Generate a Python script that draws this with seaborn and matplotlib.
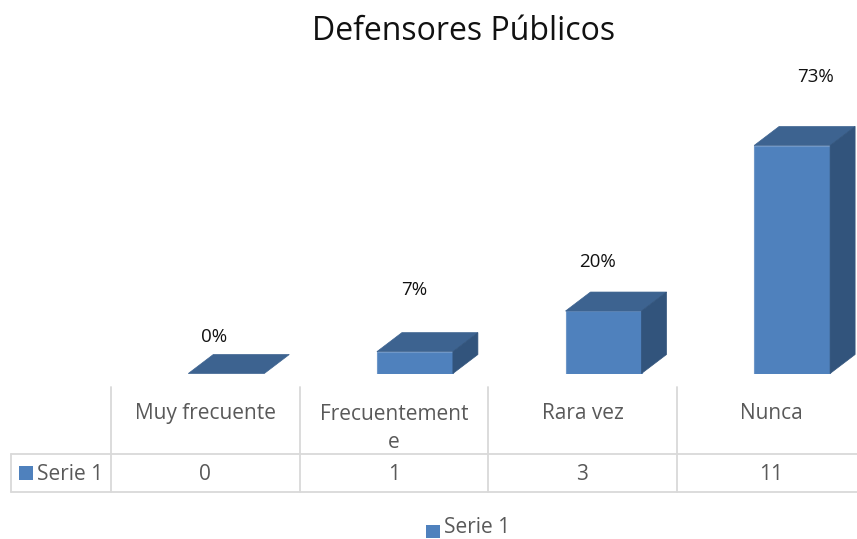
import matplotlib
matplotlib.use("Agg")
import matplotlib.pyplot as plt
import pandas as pd
import seaborn as sns
from matplotlib.patches import Polygon, Rectangle

# Values
categories = ["Muy frecuente", "Frecuentemente", "Rara vez", "Nunca"]
table_labels = ["Muy frecuente", "Frecuentement\ne", "Rara vez", "Nunca"]
percentages = [0, 7, 20, 73]
counts = [0, 1, 3, 11]
percent_labels = ["0%", "7%", "20%", "73%"]
series_name = "Serie 1"
title = "Defensores Públicos"

FRONT = "#4f81bd"
EDGE = "#6f97c8"
TOP = "#3d6390"
SIDE = "#32547c"
GRID = "#d9d9d9"
TEXT = "#595959"

W, H = 857, 539
COL_W = 188.6
COL_X0 = 111
BASE_Y = 373.5
PX_PER_PCT = 228 / 73
DEPTH_X, DEPTH_Y = 25, 19
# label offsets from the bar top centre, pixels (labels were moved by hand)
LABEL_OFFSETS = [(-12, 36), (-1, 62), (-6, 49), (23, 69)]

sns.set_theme(style="white")
plt.rcParams["font.family"] = ["Open Sans", "DejaVu Sans"]

fig = plt.figure(figsize=(W / 100, H / 100), dpi=100)
ax_left = COL_X0 + 21
ax_top = 40
ax = fig.add_axes([ax_left / W, 1 - BASE_Y / H, (W - ax_left) / W, (BASE_Y - ax_top) / H])

df = pd.DataFrame({"categoria": categories, "porcentaje": percentages})
sns.barplot(data=df, x="categoria", y="porcentaje", color=FRONT, saturation=1,
            width=76 / COL_W, edgecolor=EDGE, linewidth=0.8, ax=ax)
ax.set_xlim(-0.5, -0.5 + (W - ax_left) / COL_W)
ax.set_ylim(0, (BASE_Y - ax_top) / PX_PER_PCT)
ax.axis("off")

# fake 3D faces on every bar
dx = DEPTH_X / COL_W
dy = DEPTH_Y / PX_PER_PCT
for bar in list(ax.patches):
    x0, x1 = bar.get_x(), bar.get_x() + bar.get_width()
    h = bar.get_height()
    ax.add_patch(Polygon([(x0, h), (x1, h), (x1 + dx, h + dy), (x0 + dx, h + dy)],
                         facecolor=TOP, edgecolor=TOP, linewidth=0.5, clip_on=False))
    if h > 0:
        ax.add_patch(Polygon([(x1, 0), (x1 + dx, dy), (x1 + dx, h + dy), (x1, h)],
                             facecolor=SIDE, edgecolor=SIDE, linewidth=0.5, clip_on=False))

# overlay in pixel coordinates for the title, data table and legend
over = fig.add_axes([0, 0, 1, 1])
over.set_xlim(0, W)
over.set_ylim(H, 0)
over.axis("off")

over.text(464, 32, title, ha="center", va="center", fontsize=23, color="#111111")

for i, lab in enumerate(percent_labels):
    cx = ax_left + (i + 0.5) * COL_W
    top = BASE_Y - percentages[i] * PX_PER_PCT
    ox, oy = LABEL_OFFSETS[i]
    over.text(cx + ox, top - oy, lab, ha="center", va="center", fontsize=13.5, color="#111111")

# data table
row1, row2, row3 = 387, 454, 492
over.plot([11, W], [row2, row2], color=GRID, lw=1.3)
over.plot([11, W], [row3, row3], color=GRID, lw=1.3)
over.plot([11, 11], [row2, row3], color=GRID, lw=1.3)
for i in range(4):
    x = COL_X0 + i * COL_W
    over.plot([x, x], [row1, row3], color=GRID, lw=1.3)
    cx = x + COL_W / 2
    # va="baseline" sits on the last line, so wrapped labels go one line lower
    extra_lines = table_labels[i].count("\n")
    over.text(cx, 419 + 29 * extra_lines, table_labels[i], ha="center", va="baseline",
              fontsize=15, color=TEXT, linespacing=1.45)
    over.text(cx, 480, str(counts[i]), ha="center", va="baseline", fontsize=15, color=TEXT)

over.add_patch(Rectangle((19, 466), 14, 14, facecolor=FRONT, edgecolor="none"))
over.text(37, 480, series_name, ha="left", va="baseline", fontsize=15, color=TEXT)

# legend
over.add_patch(Rectangle((426, 525), 14, 13, facecolor=FRONT, edgecolor="none"))
over.text(444, 533, series_name, ha="left", va="baseline", fontsize=15, color=TEXT)

fig.savefig("out.png", dpi=100)
